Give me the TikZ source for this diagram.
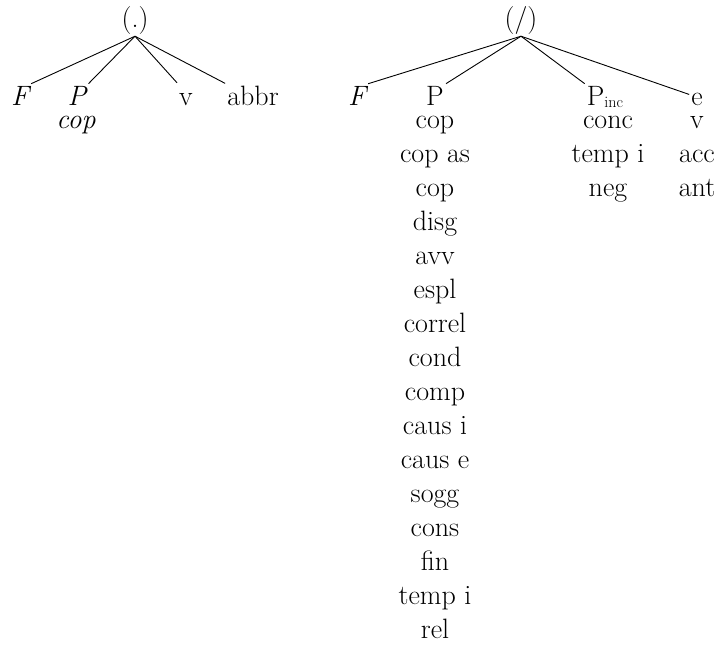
\documentclass[tikz,border=0pt]{standalone}
\begin{document}
\begin{tikzpicture}[x=1pt,y=-1pt,
  every node/.style={inner sep=2pt, font=\fontsize{28}{34}\selectfont},
  word/.style={anchor=base},
  branch/.style={line width=0.9pt}]
\useasboundingbox (0,0) rectangle (718,651);

% left tree
\node[word] (r1) at (135,27) {(.)};
\node[word] (f1) at (20,105) {\itshape F};
\node[word] (p1) at (77,105) {\itshape P};
\node[word] (p1c) at (76,128) {\itshape cop};
\node[word] (v1) at (186,105) {v};
\node[word] (a1) at (253,105) {abbr};
\draw[branch] (r1.south) -- (f1.north east);
\draw[branch] (r1.south) -- (p1.north east);
\draw[branch] (r1.south) -- ([yshift=8pt]v1.north west);
\draw[branch] (r1.south) -- (a1.north west);

% right tree
\node[word] (r2) at (521,27) {(/)};
\node[word] (f2) at (357,105) {\itshape F};
\node[word] (p2) at (435,105) {P};
\node[word] (pi) at (605,105) {P\raisebox{-2pt}{\fontsize{16}{16}\selectfont inc}};
\node[word] (e2) at (697,105) {e};
\draw[branch] (r2.south) -- (f2.north east);
\draw[branch] (r2.south) -- (p2.north east);
\draw[branch] (r2.south) -- (pi.north west);
\draw[branch] (r2.south) -- ([yshift=-4pt]e2.north west);

% columns of labels
\foreach \w [count=\i] in {cop,cop as,cop,disg,avv,espl,correl,cond,comp,caus i,caus e,sogg,cons,fin,temp i,rel}
  \node[word] (pc\i) at (435,128+34*\i-34) {\w};
\foreach \w [count=\i] in {conc,temp i,neg}
  \node[word] (ic\i) at (608,128+34*\i-34) {\w};
\foreach \w [count=\i] in {v,acc,ant}
  \node[word] (ec\i) at (697,128+34*\i-34) {\w};
\end{tikzpicture}
\end{document}
